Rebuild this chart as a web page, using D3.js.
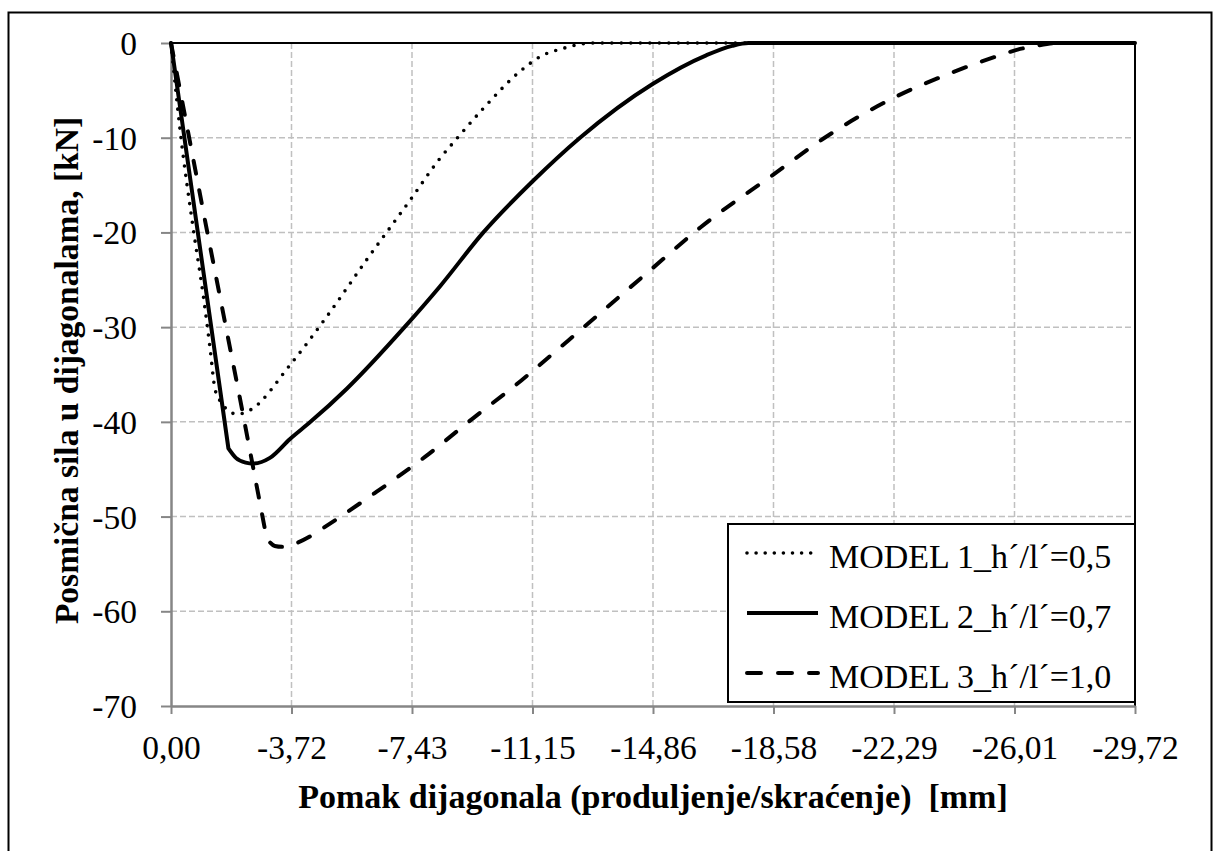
<!DOCTYPE html>
<html>
<head>
<meta charset="utf-8">
<script src="https://cdn.jsdelivr.net/npm/d3@7"></script>
<style>
  html, body { margin: 0; padding: 0; background: #fff; }
  svg { display: block; }
  text { font-family: "Liberation Serif", "Times New Roman", Tinos, "DejaVu Serif", serif; fill: #000; }
</style>
</head>
<body>
<svg id="chart" width="1214" height="851"></svg>
<script>
// ---- Data ----
const xTickValues = [0, -3.715, -7.43, -11.145, -14.86, -18.575, -22.29, -26.005, -29.72];
const xTickLabels = ["0,00", "-3,72", "-7,43", "-11,15", "-14,86", "-18,58", "-22,29", "-26,01", "-29,72"];
const yTickValues = [0, -10, -20, -30, -40, -50, -60, -70];
const yTickLabels = ["0", "-10", "-20", "-30", "-40", "-50", "-60", "-70"];

const seriesNames = ["MODEL 1_h\u00B4/l\u00B4=0,5", "MODEL 2_h\u00B4/l\u00B4=0,7", "MODEL 3_h\u00B4/l\u00B4=1,0"];

const model1X = [0, -0.28, -0.69, -1.0, -1.2, -1.36, -1.56, -1.8, -2.05, -2.44, -3.67, -4.8, -6.03, -7.37, -8.29, -8.81, -9.63, -10.76, -11.38, -12.1, -12.4, -13.0, -29.72];
const model1Y = [0, -9.2, -19.7, -26.8, -32.1, -36.6, -38.0, -38.9, -39.2, -38.75, -34.0, -28.9, -22.9, -16.6, -12.2, -10.1, -6.9, -3.0, -1.44, -0.56, -0.28, 0, 0];

const model2X = [0, -1.77, -2.0, -2.3, -2.54, -3.05, -3.67, -4.3, -5.42, -7.2, -8.29, -9.63, -11.15, -12.61, -14.86, -16.5, -17.3, -17.8, -29.72];
const model2Y = [0, -42.8, -43.8, -44.3, -44.4, -43.8, -41.8, -40.0, -36.5, -30.0, -25.7, -20.0, -14.6, -10.0, -4.3, -1.3, -0.3, 0, 0];

const model3X = [0, -1.12, -2.13, -2.95, -3.2, -3.46, -3.87, -4.34, -4.70, -6.29, -7.83, -9.32, -10.81, -12.25, -14.77, -16.31, -18.57, -20.2, -22.27, -23.8, -25.55, -26.1, -26.6, -27.3, -29.72];
const model3Y = [0, -20.0, -37.6, -52.3, -53.1, -53.2, -52.8, -52.0, -51.2, -47.5, -43.7, -39.6, -35.6, -31.4, -24.0, -19.5, -13.9, -9.9, -5.8, -3.5, -1.3, -0.7, -0.35, 0, 0];

const xTitle = "Pomak dijagonala (produljenje/skra\u0107enje)  [mm]";
const yTitle = "Posmi\u010Dna sila u dijagonalama, [kN]";

// ---- Layout ----
const svg = d3.select("#chart");
const plot = { left: 171, right: 1135, top: 43, bottom: 706 };

const x = d3.scaleLinear().domain([0, -29.72]).range([plot.left, plot.right]);
const y = d3.scaleLinear().domain([0, -70]).range([plot.top, plot.bottom]);

// outer frame
svg.append("rect")
  .attr("x", 8.5).attr("y", 12.5).attr("width", 1203).attr("height", 850)
  .attr("fill", "#fff").attr("stroke", "#000").attr("stroke-width", 2);

// gridlines
const grid = svg.append("g");
grid.selectAll("line.v").data(xTickValues.slice(1, -1)).enter().append("line")
  .attr("x1", d => x(d)).attr("x2", d => x(d))
  .attr("y1", plot.top).attr("y2", plot.bottom)
  .attr("stroke", "#c0c0c0").attr("stroke-width", 1.5).attr("stroke-dasharray", "6,3");
grid.selectAll("line.h").data(yTickValues.slice(1, -1)).enter().append("line")
  .attr("x1", plot.left).attr("x2", plot.right)
  .attr("y1", d => y(d)).attr("y2", d => y(d))
  .attr("stroke", "#c0c0c0").attr("stroke-width", 1.5).attr("stroke-dasharray", "6,3");

// plot area border (top & right black)
svg.append("path")
  .attr("d", `M${plot.left},${plot.top}H${plot.right}V${plot.bottom}`)
  .attr("fill", "none").attr("stroke", "#000").attr("stroke-width", 2);

// axes
const xAxis = d3.axisBottom(x).tickValues(xTickValues)
  .tickFormat((d, i) => xTickLabels[i]).tickSizeInner(8).tickSizeOuter(0);
const gx = svg.append("g").attr("transform", `translate(0,${plot.bottom})`).call(xAxis);
gx.select(".domain").attr("stroke", "#868686").attr("stroke-width", 2.5);
gx.selectAll(".tick line").attr("stroke", "#868686").attr("stroke-width", 2);
gx.selectAll(".tick text").attr("font-size", "33.5px")
  .attr("y", 0).attr("dy", 0).attr("transform", "translate(0,53)");

const yAxis = d3.axisLeft(y).tickValues(yTickValues)
  .tickFormat((d, i) => yTickLabels[i]).tickSizeInner(10).tickSizeOuter(0);
const gy = svg.append("g").attr("transform", `translate(${plot.left},0)`).call(yAxis);
gy.select(".domain").attr("stroke", "#868686").attr("stroke-width", 2.5);
gy.selectAll(".tick line").attr("stroke", "#868686").attr("stroke-width", 2);
gy.selectAll(".tick text").attr("font-size", "33.5px")
  .attr("x", -34).attr("dy", 0).attr("transform", "translate(0,11.5)");

// series
const styles = [
  { width: 3.6, dash: "0,9.5", cap: "round", linearUntil: 0 },
  { width: 4, dash: null, cap: "butt", linearUntil: 1 },
  { width: 4, dash: "13,17", cap: "round", linearUntil: 3 }
];
const seriesData = [
  model1X.map((v, i) => [v, model1Y[i]]),
  model2X.map((v, i) => [v, model2Y[i]]),
  model3X.map((v, i) => [v, model3Y[i]])
];
const lineLin = d3.line().x(d => x(d[0])).y(d => y(d[1])).curve(d3.curveLinear);
const lineMono = d3.line().x(d => x(d[0])).y(d => y(d[1])).curve(d3.curveMonotoneX);
function seriesPath(pts, k) {
  if (k <= 0) return lineMono(pts);
  const a = lineLin(pts.slice(0, k + 1));
  const b = lineMono(pts.slice(k));
  return a + "L" + b.slice(1);
}
const drawOrder = [0, 2, 1];
drawOrder.forEach(k => {
  const s = styles[k];
  const p = svg.append("path")
    .attr("d", seriesPath(seriesData[k], s.linearUntil)).attr("fill", "none").attr("stroke", "#000")
    .attr("stroke-width", s.width).attr("stroke-linecap", s.cap).attr("stroke-linejoin", "round");
  if (s.dash) p.attr("stroke-dasharray", s.dash);
});

// legend
const lg = svg.append("g");
lg.append("rect").attr("x", 728).attr("y", 524).attr("width", 407).attr("height", 178)
  .attr("fill", "#fff").attr("stroke", "#000").attr("stroke-width", 2);
const legY = [553, 613, 673];
seriesNames.forEach((name, i) => {
  const s = styles[i];
  const l = lg.append("line").attr("x1", 747).attr("x2", 818)
    .attr("y1", legY[i]).attr("y2", legY[i])
    .attr("stroke", "#000").attr("stroke-width", s.width).attr("stroke-linecap", s.cap);
  if (s.dash) l.attr("stroke-dasharray", i === 0 ? "0,9.1" : "14,17");
  lg.append("text").attr("x", 829).attr("y", legY[i] + 15)
    .attr("font-size", "34px").text(name);
});

// axis titles
svg.append("text")
  .attr("x", (plot.left + plot.right) / 2).attr("y", 808)
  .attr("text-anchor", "middle").attr("font-size", "34px").attr("font-weight", "bold")
  .style("white-space", "pre").text(xTitle);
svg.append("text")
  .attr("transform", `translate(78,${(plot.top + plot.bottom) / 2 - 4}) rotate(-90)`)
  .attr("text-anchor", "middle").attr("font-size", "33.5px").attr("font-weight", "bold")
  .text(yTitle);
</script>
</body>
</html>
